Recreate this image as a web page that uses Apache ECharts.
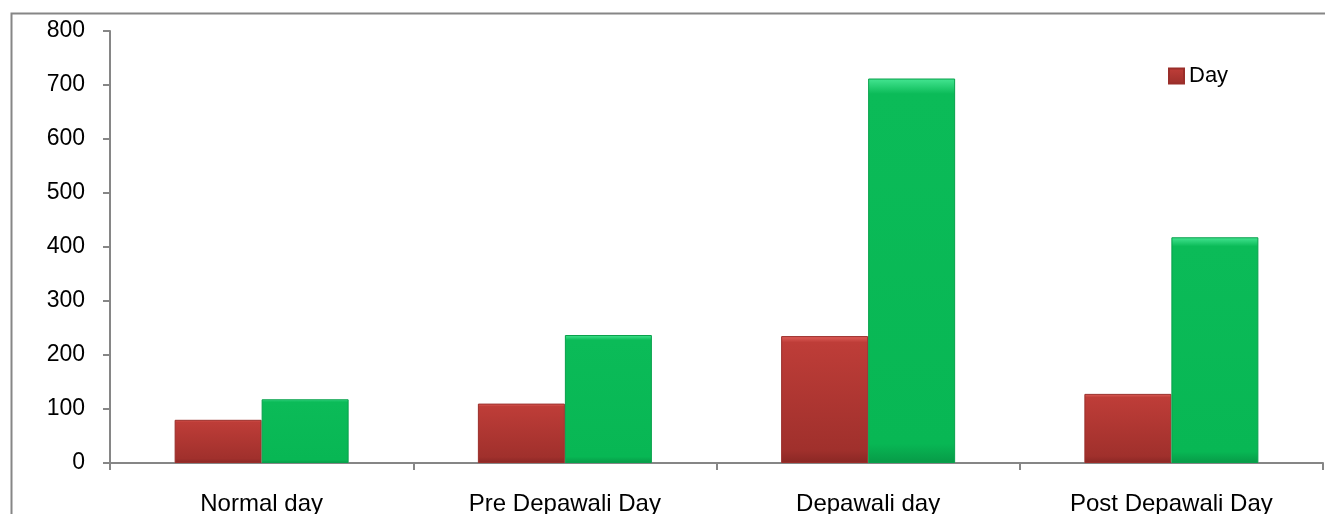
<!DOCTYPE html>
<html><head><meta charset="utf-8">
<script src="https://cdn.jsdelivr.net/npm/echarts@6/dist/echarts.min.js"></script>
<style>html,body{margin:0;padding:0;background:#fff}#c{width:1325px;height:514px}</style>
</head><body><div id="c"></div>
<script>
const categories = ['Normal day', 'Pre Depawali Day', 'Depawali day', 'Post Depawali Day'];
const dayValues = [80, 110, 235, 128];
const nightValues = [118, 237, 712, 418];
const yTicks = [0, 100, 200, 300, 400, 500, 600, 700, 800];

const font = 'Liberation Sans';
const chart = echarts.init(document.getElementById('c'));
const redFill = new echarts.graphic.LinearGradient(0, 0, 0, 1, [
  {offset: 0, color: '#e0605a'}, {offset: 0.05, color: '#be3d38'}, {offset: 0.9, color: '#a0302c'}, {offset: 1, color: '#8a2724'}
]);
const greenFill = new echarts.graphic.LinearGradient(0, 0, 0, 1, [
  {offset: 0, color: '#45e592'}, {offset: 0.04, color: '#0bbb58'}, {offset: 0.95, color: '#08b754'}, {offset: 1, color: '#079a47'}
]);
chart.setOption({
  animation: false,
  backgroundColor: '#fff',
  graphic: [{
    type: 'rect', left: 9, top: 11, z: -1,
    shape: {width: 1400, height: 600},
    style: {fill: 'none', stroke: '#868686', lineWidth: 2}
  }],
  grid: {left: 110, top: 31, right: 2, bottom: 51, containLabel: false, outerBoundsMode: 'none'},
  legend: {
    data: [{name: 'Day', icon: 'rect'}], left: 1163, top: 60, itemWidth: 15, itemHeight: 15, itemGap: 8,
    textStyle: {fontFamily: font, fontSize: 22, color: '#000'}
  },
  xAxis: {
    type: 'category', data: categories,
    axisLine: {lineStyle: {color: '#868686', width: 2}},
    axisTick: {show: true, length: 7, lineStyle: {color: '#868686', width: 2}},
    axisLabel: {fontFamily: font, fontSize: 24, color: '#000', margin: 29}
  },
  yAxis: {
    type: 'value', min: 0, max: 800, interval: 100,
    axisLine: {show: true, lineStyle: {color: '#868686', width: 2}},
    axisTick: {show: true, length: 7, lineStyle: {color: '#868686', width: 2}},
    splitLine: {show: false},
    axisLabel: {fontFamily: font, fontSize: 23, color: '#000', margin: 25,
      formatter: v => yTicks.includes(v) ? String(v) : ''}
  },
  series: [
    {name: 'Day', type: 'bar', data: dayValues, barWidth: 87, barGap: '0%',
      itemStyle: {color: redFill, borderColor: '#9a2e2a', borderWidth: 1}},
    {name: 'Night', type: 'bar', data: nightValues, barWidth: 87, barGap: '0%',
      itemStyle: {color: greenFill, borderColor: '#07a04b', borderWidth: 1}}
  ]
});
</script></body></html>
